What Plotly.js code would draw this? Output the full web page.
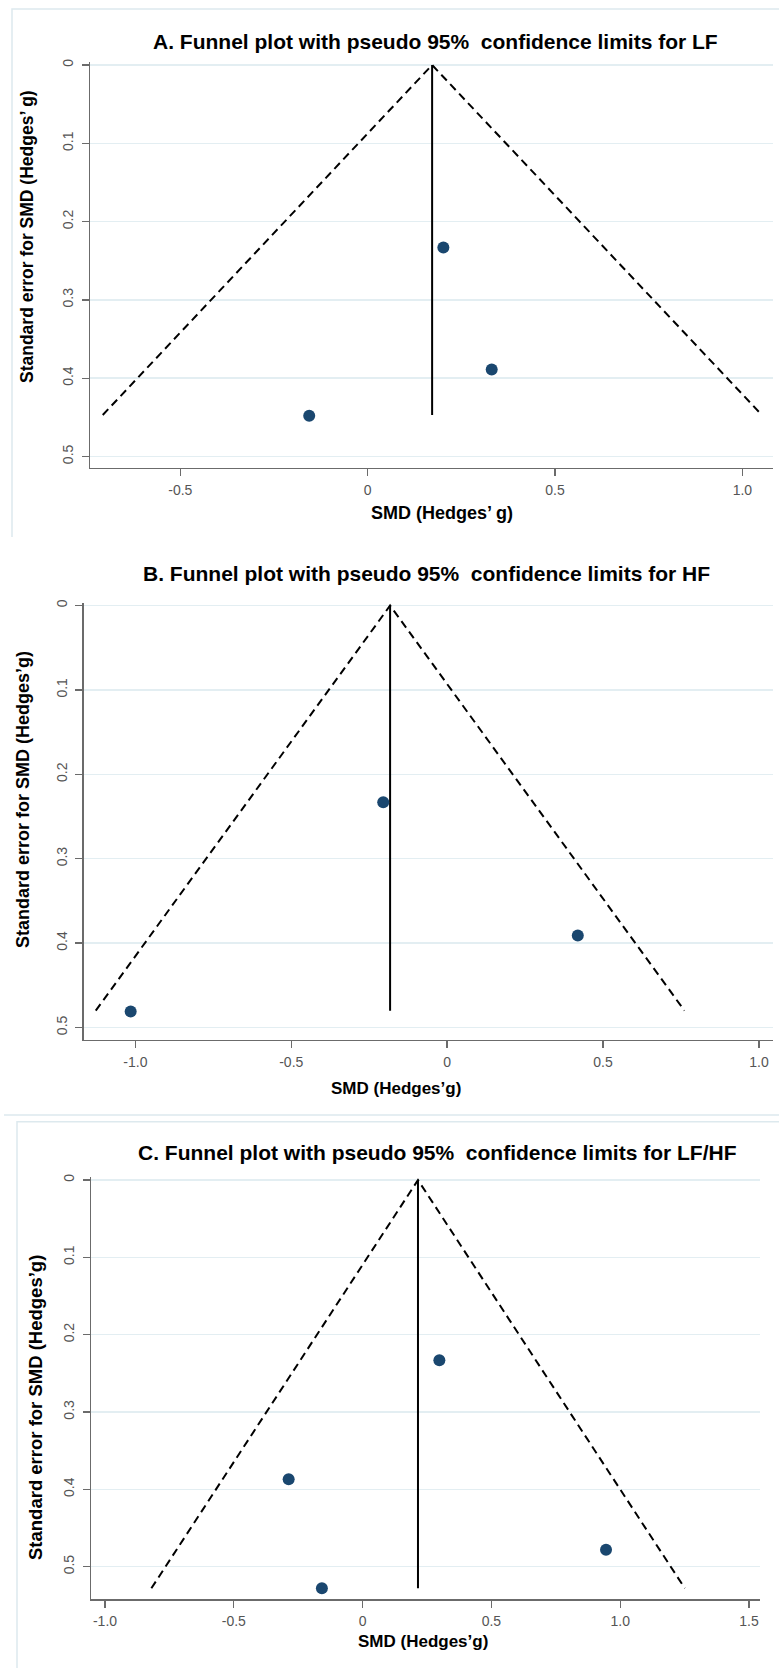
<!DOCTYPE html>
<html><head><meta charset="utf-8">
<script src="https://cdn.plot.ly/plotly-3.0.1.min.js"></script>
<style>html,body{margin:0;padding:0;background:#fff}#chart{width:779px;height:1668px}</style>
</head><body><div id="chart"></div>
<script>
// ---------------- data ----------------
const panelTitles = [
  "A. Funnel plot with pseudo 95%\u00a0 confidence limits for LF",
  "B. Funnel plot with pseudo 95%\u00a0 confidence limits for HF",
  "C. Funnel plot with pseudo 95%\u00a0 confidence limits for LF/HF"
];
const yAxisTitles = [
  "Standard error for SMD (Hedges\u2019 g)",
  "Standard error for SMD (Hedges\u2019g)",
  "Standard error for SMD (Hedges\u2019g)"
];
const xAxisTitles = ["SMD (Hedges\u2019 g)", "SMD (Hedges\u2019g)", "SMD (Hedges\u2019g)"];

// study effect sizes (SMD) and their standard errors
const smdA = [0.202, 0.331, -0.156];
const seA  = [0.233, 0.389, 0.448];
const smdB = [-0.205, 0.419, -1.015];
const seB  = [0.233, 0.391, 0.481];
const smdC = [0.298, -0.287, 0.945, -0.158];
const seC  = [0.233, 0.387, 0.478, 0.528];

// pooled estimate and pseudo 95% limits
const pooled      = [0.172, -0.183, 0.215];
const seMax       = [0.447, 0.480, 0.528];
const funnelLeft  = [-0.707, -1.127, -0.820];
const funnelRight = [1.052, 0.761, 1.251];

// tick labels
const seTickVals = [0, 0.1, 0.2, 0.3, 0.4, 0.5];
const seTickText = ["0", "0.1", "0.2", "0.3", "0.4", "0.5"];
const smdTickValsA = [-0.5, 0, 0.5, 1.0];
const smdTickTextA = ["-0.5", "0", "0.5", "1.0"];
const smdTickValsB = [-1.0, -0.5, 0, 0.5, 1.0];
const smdTickTextB = ["-1.0", "-0.5", "0", "0.5", "1.0"];
const smdTickValsC = [-1.0, -0.5, 0, 0.5, 1.0, 1.5];
const smdTickTextC = ["-1.0", "-0.5", "0", "0.5", "1.0", "1.5"];

// ---------------- layout geometry (pixels) ----------------
const W = 779, H = 1668;
const panels = [
  {l: 90,   r: 773,   t: 62,   b: 467.7,  xr: [-0.741, 1.0817], yr: [0.5143, -0.0038],
   title: [435, 41.7], xt: [442, 513], yt: [27, 237], ytSize: 17.5, xtSize: 18,
   smd: smdA, se: seA, xv: smdTickValsA, xtx: smdTickTextA},
  {l: 83.5, r: 772.5, t: 603,  b: 1040,   xr: [-1.1663, 1.0435], yr: [0.5148, -0.003],
   title: [427, 573.3], xt: [396, 1088.3], yt: [23, 800], ytSize: 18, xtSize: 17,
   smd: smdB, se: seB, xv: smdTickValsB, xtx: smdTickTextB},
  {l: 90.9, r: 760,   t: 1177, b: 1599.3, xr: [-1.0547, 1.5427], yr: [0.5422, -0.0039],
   title: [437, 1152.5], xt: [423.5, 1641.7], yt: [35, 1408], ytSize: 18.5, xtSize: 17,
   smd: smdC, se: seC, xv: smdTickValsC, xtx: smdTickTextC}
];

const FONT = "Liberation Sans, Arial, Helvetica, sans-serif";
const px = v => v / W;
const py = v => 1 - v / H;

const traces = [];
const layout = {
  width: W, height: H,
  margin: {l: 0, r: 0, t: 0, b: 0},
  paper_bgcolor: "#ffffff", plot_bgcolor: "#ffffff",
  showlegend: false,
  font: {family: FONT, color: "#000"},
  annotations: [], shapes: []
};

panels.forEach((p, i) => {
  const sfx = i === 0 ? "" : String(i + 1);
  const xa = "x" + sfx, ya = "y" + sfx;

  // pseudo 95% confidence limits (dashed)
  traces.push({
    type: "scatter", mode: "lines", xaxis: xa, yaxis: ya, hoverinfo: "skip",
    x: [funnelLeft[i], pooled[i], funnelRight[i]],
    y: [seMax[i], 0, seMax[i]],
    line: {color: "#000", width: 2, dash: "8px,5px"}
  });
  // pooled estimate (solid vertical)
  traces.push({
    type: "scatter", mode: "lines", xaxis: xa, yaxis: ya, hoverinfo: "skip",
    x: [pooled[i], pooled[i]], y: [0, seMax[i]],
    line: {color: "#000", width: 2}
  });
  // studies
  traces.push({
    type: "scatter", mode: "markers", xaxis: xa, yaxis: ya,
    x: p.smd, y: p.se,
    marker: {color: "#1a476f", size: 12, line: {width: 0}}
  });

  layout["xaxis" + sfx] = {
    domain: [px(p.l), px(p.r)], anchor: ya, range: p.xr,
    tickmode: "array", tickvals: p.xv, ticktext: p.xtx,
    showgrid: false, zeroline: false,
    showline: true, linecolor: "#6b6b6b", linewidth: 1.3,
    ticks: "outside", ticklen: 7, tickwidth: 1.3, tickcolor: "#6b6b6b",
    ticklabelstandoff: 2,
    tickfont: {family: FONT, size: 14, color: "#555"}
  };
  layout["yaxis" + sfx] = {
    domain: [py(p.b), py(p.t)], anchor: xa, range: p.yr,
    tickmode: "array", tickvals: seTickVals, ticktext: seTickText,
    showgrid: true, gridcolor: "#e3eef2", gridwidth: 1.5,
    zeroline: false,
    showline: true, linecolor: "#6b6b6b", linewidth: 1.3,
    ticks: "outside", ticklen: 7, tickwidth: 1.3, tickcolor: "#6b6b6b",
    tickangle: -90, ticklabelstandoff: 3,
    tickfont: {family: FONT, size: 14, color: "#555"}
  };

  layout.annotations.push({
    xref: "paper", yref: "paper", x: px(p.title[0]), y: py(p.title[1]),
    xanchor: "center", yanchor: "middle", showarrow: false,
    text: "<b>" + panelTitles[i] + "</b>",
    font: {family: FONT, size: 21, color: "#000"}
  });
  layout.annotations.push({
    xref: "paper", yref: "paper", x: px(p.xt[0]), y: py(p.xt[1]),
    xanchor: "center", yanchor: "middle", showarrow: false,
    text: "<b>" + xAxisTitles[i] + "</b>",
    font: {family: FONT, size: p.xtSize, color: "#000"}
  });
  layout.annotations.push({
    xref: "paper", yref: "paper", x: px(p.yt[0]), y: py(p.yt[1]),
    xanchor: "center", yanchor: "middle", showarrow: false, textangle: -90,
    text: "<b>" + yAxisTitles[i] + "</b>",
    font: {family: FONT, size: p.ytSize, color: "#000"}
  });
});

// faint frames around the panel images
const frameColor = "#dde9ee";
layout.shapes.push(
  {type: "path", xref: "paper", yref: "paper", layer: "below",
   path: `M ${px(12)},${py(537)} L ${px(12)},${py(9)} L ${px(779)},${py(9)}`,
   line: {color: frameColor, width: 1.5}},
  {type: "line", xref: "paper", yref: "paper", layer: "below",
   x0: px(4), x1: px(779), y0: py(1115), y1: py(1115),
   line: {color: frameColor, width: 1.5}},
  {type: "path", xref: "paper", yref: "paper", layer: "below",
   path: `M ${px(17)},${py(1668)} L ${px(17)},${py(1121.7)} L ${px(779)},${py(1121.7)}`,
   line: {color: frameColor, width: 1.5}}
);

Plotly.newPlot("chart", traces, layout, {staticPlot: true, displayModeBar: false});
</script>
</body></html>
